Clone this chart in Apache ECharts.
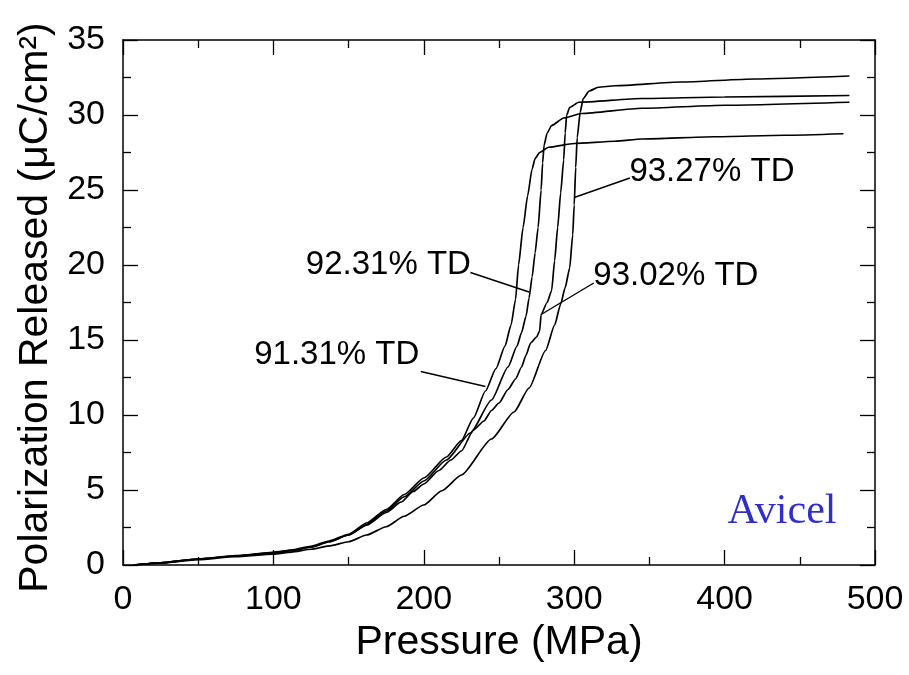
<!DOCTYPE html>
<html>
<head>
<meta charset="utf-8">
<script src="https://cdn.jsdelivr.net/npm/echarts@6/dist/echarts.min.js"></script>
<style>html,body{margin:0;padding:0;background:#fff;}#chart{width:909px;height:675px;}</style>
</head>
<body>
<div id="chart"></div>
<script>
// ---- data (Pressure MPa, Polarization µC/cm²) ----
const td9131 = [[7,0],[25,0.15],[50,0.4],[75,0.62],[100,0.85],[112,1.0],[125,1.25],[137,1.6],[150,2.05],[162,2.8],[175,3.7],[187,4.7],[200,5.8],[215,7.2],[225,8.3],[233,9.8],[241,11.6],[248,13.1],[254,14.6],[258,16.0],[261,17.7],[263,20.0],[266,22.5],[269,24.6],[272,26.4],[274,27.1],[277,27.5],[283,27.85],[300,28.1],[327,28.25],[345,28.4],[393,28.55],[440,28.65],[479,28.75]];
const td9231 = [[7,0],[25,0.15],[50,0.4],[75,0.6],[100,0.82],[112,0.97],[125,1.2],[137,1.55],[150,2.0],[162,2.7],[175,3.6],[187,4.55],[200,5.6],[215,7.0],[231,8.8],[245,11.0],[256,13.2],[262,14.6],[265,15.5],[268,16.6],[270,17.8],[272,19.2],[274,20.8],[276,22.5],[278,25.0],[279,26.8],[280,28.0],[282,28.8],[285,29.3],[293,29.8],[305,30.1],[345,30.45],[400,30.65],[483,30.85]];
const td9302 = [[7,0],[25,0.15],[50,0.4],[75,0.6],[100,0.8],[112,0.95],[125,1.2],[137,1.55],[150,2.0],[162,2.65],[175,3.5],[185,4.2],[193,4.9],[200,5.4],[210,6.3],[218,7.0],[225,7.6],[233,9.0],[240,9.6],[245,10.3],[250,10.8],[256,11.7],[261,12.4],[265,13.2],[268,14.0],[271,14.8],[275,15.2],[277,15.6],[278,16.7],[282,17.5],[285,18.3],[287,20.3],[289,22.5],[291,24.8],[293,27.0],[294,28.8],[295,30.0],[297,30.5],[303,30.85],[345,31.1],[400,31.2],[483,31.3]];
const td9327 = [[7,0],[25,0.12],[50,0.35],[75,0.55],[100,0.72],[112,0.86],[125,1.05],[137,1.27],[150,1.55],[162,2.0],[175,2.55],[187,3.25],[200,4.0],[212,4.95],[225,6.0],[245,8.4],[260,10.2],[270,11.8],[281,14.3],[287,16.0],[291,17.4],[294,18.5],[297,19.8],[299,22.0],[300,24.0],[301,26.5],[302,28.5],[304,30.2],[306,31.1],[310,31.6],[316,31.85],[327,31.95],[371,32.2],[420,32.4],[483,32.6]];

const seriesNames = ['91.31% TD','92.31% TD','93.02% TD','93.27% TD'];
// annotation label anchors [x, y] and leader lines [[x1,y1],[x2,y2]]
const labelAnchors = [[197,14.0],[231.3,20.0],[312.7,19.3],[336.7,26.2]];
const labelSides = ['left','left','right','right'];
const leaders = [
  [[198,12.9],[241,11.9]],
  [[231,19.5],[270,18.2]],
  [[313,18.8],[278,16.7]],
  [[337,25.8],[300,24.5]]
];
const sampleName = 'Avicel';
const sampleAnchor = [402,3.55];

const xTicks = [0,100,200,300,400,500];
const yTicks = [0,5,10,15,20,25,30,35];

const chart = echarts.init(document.getElementById('chart'));
const FONT = 'Liberation Sans, Arial, sans-serif';
const curves = [td9131, td9231, td9302, td9327];

const series = [];
curves.forEach((d, i) => {
  series.push({
    name: seriesNames[i], type: 'line', data: d, showSymbol: false,
    smooth: 0.2, smoothMonotone: 'x',
    lineStyle: {color: '#000', width: 1.7}, z: 3, silent: true
  });
});
leaders.forEach((seg) => {
  series.push({
    type: 'line', data: seg, showSymbol: false,
    lineStyle: {color: '#000', width: 1.4}, z: 4, silent: true
  });
});
series.push({
  type: 'scatter', symbolSize: 0, silent: true, z: 5,
  itemStyle: {opacity: 1},
  data: labelAnchors.map((p, i) => ({
    value: p,
    label: {show: true, position: labelSides[i], distance: 0, opacity: 1,
      formatter: seriesNames[i], color: '#000', fontSize: 33, fontFamily: FONT}
  }))
});
series.push({
  type: 'scatter', symbolSize: 0, silent: true, z: 5,
  itemStyle: {opacity: 1},
  data: [{value: sampleAnchor, label: {show: true, position: 'right', distance: 0, opacity: 1,
    formatter: sampleName, color: '#2f2fc8', fontSize: 42, fontFamily: 'Liberation Serif, Times New Roman, serif'}}]
});

const tickCommon = {
  axisLine: {show: true, onZero: false, lineStyle: {color: '#000', width: 1.5}},
  axisTick: {show: true, inside: true, length: 15, lineStyle: {color: '#000', width: 1.3}},
  minorTick: {show: true, splitNumber: 2, length: 8, lineStyle: {color: '#000', width: 1.3}},
  splitLine: {show: false}
};
const option = {
  animation: false,
  backgroundColor: '#fff',
  grid: {left: 123, right: 34, top: 40, bottom: 110},
  xAxis: [
    Object.assign({
      type: 'value', min: xTicks[0], max: xTicks[xTicks.length-1], interval: 100,
      name: 'Pressure (MPa)', nameLocation: 'middle', nameGap: 52,
      nameTextStyle: {fontSize: 41, color: '#000', fontFamily: FONT},
      axisLabel: {fontSize: 34, color: '#000', fontFamily: FONT, margin: 18}
    }, tickCommon),
    Object.assign({
      type: 'value', position: 'top', min: xTicks[0], max: xTicks[xTicks.length-1], interval: 100,
      axisLabel: {show: false}
    }, tickCommon)
  ],
  yAxis: [
    Object.assign({
      type: 'value', min: yTicks[0], max: yTicks[yTicks.length-1], interval: 5,
      name: 'Polarization Released (\u03bcC/cm\u00b2)', nameLocation: 'middle', nameGap: 58,
      nameTextStyle: {fontSize: 41, color: '#000', fontFamily: FONT, padding: [0, 10, 0, 0]},
      axisLabel: {fontSize: 34, color: '#000', fontFamily: FONT, margin: 18}
    }, tickCommon),
    Object.assign({
      type: 'value', position: 'right', min: yTicks[0], max: yTicks[yTicks.length-1], interval: 5,
      axisLabel: {show: false}
    }, tickCommon)
  ],
  series: series
};
chart.setOption(option);
</script>
</body>
</html>
